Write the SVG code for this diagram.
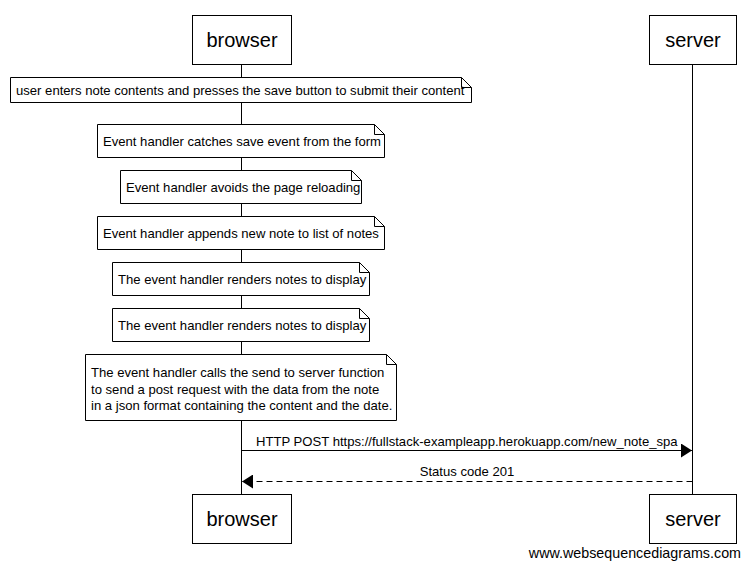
<svg xmlns="http://www.w3.org/2000/svg" width="750" height="568" viewBox="0 0 750 568">
<style>
.box{fill:#fff;stroke:#000;stroke-width:1}
.life{stroke:#000;stroke-width:1}
.note{fill:#fff;stroke:#000;stroke-width:1}
.fold{fill:none;stroke:#000;stroke-width:1}
.t{font-family:"Liberation Sans",Arial,sans-serif;font-size:13.1px;fill:#000}
.title{font-family:"Liberation Sans",Arial,sans-serif;font-size:20px;fill:#000;text-anchor:middle}
.msg{stroke:#000;stroke-width:1;fill:none}
</style>
<defs>
<marker id="ah" markerWidth="12" markerHeight="14" refX="11" refY="7" orient="auto" markerUnits="userSpaceOnUse">
<path d="M0,0 L11,7 L0,14 Z" fill="#000"/>
</marker>
</defs>
<rect width="750" height="568" fill="#fff"/>
<g id="lifelines">
<line class="life" x1="241.5" y1="64" x2="241.5" y2="494"/>
<line class="life" x1="692.5" y1="64" x2="692.5" y2="494"/>
</g>
<g id="browser-top"><rect class="box" x="192.5" y="15.5" width="99" height="49"/><text class="title" x="242" y="47">browser</text></g>
<g id="server-top"><rect class="box" x="649.5" y="15.5" width="87" height="49"/><text class="title" x="693" y="47">server</text></g>
<g id="note1"><path class="note" d="M10.5,77.5 H461.5 L471.5,87.5 V102.5 H10.5 Z"/><path class="fold" d="M461.5,77.5 V87.5 H471.5"/><text class="t" x="16" y="95">user enters note contents and presses the save button to submit their content</text></g>
<g id="note2"><path class="note" d="M97.5,124.5 H374.5 L384.5,134.5 V157.5 H97.5 Z"/><path class="fold" d="M374.5,124.5 V134.5 H384.5"/><text class="t" x="103" y="146">Event handler catches save event from the form</text></g>
<g id="note3"><path class="note" d="M120.5,170.5 H351.5 L361.5,180.5 V203.5 H120.5 Z"/><path class="fold" d="M351.5,170.5 V180.5 H361.5"/><text class="t" x="126" y="192">Event handler avoids the page reloading</text></g>
<g id="note4"><path class="note" d="M97.5,216.5 H374.5 L384.5,226.5 V249.5 H97.5 Z"/><path class="fold" d="M374.5,216.5 V226.5 H384.5"/><text class="t" x="103" y="238">Event handler appends new note to list of notes</text></g>
<g id="note5"><path class="note" d="M112.5,262.5 H359.5 L369.5,272.5 V295.5 H112.5 Z"/><path class="fold" d="M359.5,262.5 V272.5 H369.5"/><text class="t" x="118" y="284">The event handler renders notes to display</text></g>
<g id="note6"><path class="note" d="M112.5,308.5 H359.5 L369.5,318.5 V341.5 H112.5 Z"/><path class="fold" d="M359.5,308.5 V318.5 H369.5"/><text class="t" x="118" y="330">The event handler renders notes to display</text></g>
<g id="note7"><path class="note" d="M85.5,354.5 H386.5 L396.5,364.5 V420.5 H85.5 Z"/><path class="fold" d="M386.5,354.5 V364.5 H396.5"/>
<text class="t" x="91" y="377">The event handler calls the send to server function</text>
<text class="t" x="91" y="394">to send a post request with the data from the note</text>
<text class="t" x="91" y="410">in a json format containing the content and the date.</text></g>
<g id="connectors">
<line class="msg" x1="241.5" y1="450.5" x2="692" y2="450.5" marker-end="url(#ah)"/>
<text class="t" x="256" y="446">HTTP POST https://fullstack-exampleapp.herokuapp.com/new_note_spa</text>
<line class="msg" x1="692.5" y1="481.5" x2="242" y2="481.5" stroke-dasharray="6,4" marker-end="url(#ah)"/>
<text class="t" x="467" y="476" text-anchor="middle">Status code 201</text>
</g>
<g id="browser-bottom"><rect class="box" x="192.5" y="494.5" width="99" height="49"/><text class="title" x="242" y="526">browser</text></g>
<g id="server-bottom"><rect class="box" x="649.5" y="494.5" width="87" height="49"/><text class="title" x="693" y="526">server</text></g>
<text x="741" y="558" text-anchor="end" style="font-family:'Liberation Sans',Arial,sans-serif;font-size:14.3px;fill:#000">www.websequencediagrams.com</text>
</svg>
